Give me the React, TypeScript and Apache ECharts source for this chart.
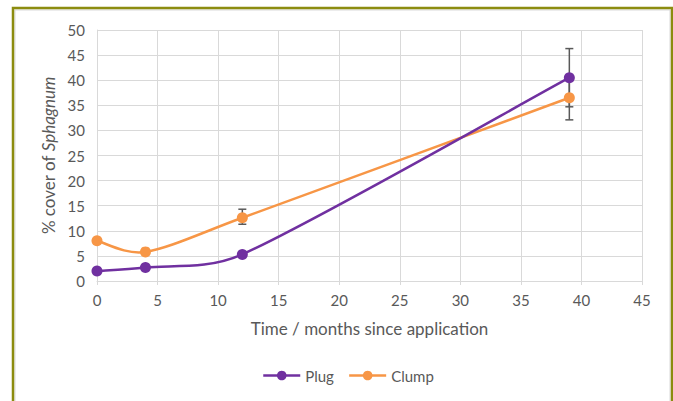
import React, { useEffect, useRef } from "react";
import * as echarts from "echarts";

const months = [0, 4, 12, 39];
const plugValues = [2.0, 2.7, 5.3, 40.5];
const clumpValues = [8.0, 5.8, 12.6, 36.5];
// error bars: [x, low, high]
const plugErrors: [number, number, number][] = [[39, 34.7, 46.3]];
const clumpErrors: [number, number, number][] = [[12, 11.3, 14.3], [39, 32.1, 40.9]];
const xTicks = { min: 0, max: 45, interval: 5 };
const yTicks = { min: 0, max: 50, interval: 5 };

const FONT = "Lato, 'Open Sans', sans-serif";
const TXT = "#595959";
const PURPLE = "#7030A0";
const ORANGE = "#F79646";

function errorSeries(name: string, data: [number, number, number][]) {
  return {
    type: "custom",
    name,
    z: 4,
    silent: true,
    data,
    renderItem: (params: any, api: any) => {
      const x = api.value(0);
      const lo = api.coord([x, api.value(1)]);
      const hi = api.coord([x, api.value(2)]);
      const w = 4;
      const style = { stroke: "#595959", lineWidth: 1.5 };
      return {
        type: "group",
        children: [
          { type: "line", shape: { x1: lo[0], y1: lo[1], x2: hi[0], y2: hi[1] }, style },
          { type: "line", shape: { x1: lo[0] - w, y1: lo[1], x2: lo[0] + w, y2: lo[1] }, style },
          { type: "line", shape: { x1: hi[0] - w, y1: hi[1], x2: hi[0] + w, y2: hi[1] }, style },
        ],
      };
    },
  };
}

function clampArm(dx: number, dy: number, maxLen: number): [number, number] {
  const len = Math.hypot(dx, dy);
  if (len > maxLen && len > 0) {
    const k = maxLen / len;
    return [dx * k, dy * k];
  }
  return [dx, dy];
}

// Excel-like smoothed curve (Catmull-Rom as cubic Bezier) through the library's coordinates
function curveSeries(name: string, xs: number[], ys: number[], color: string, z: number) {
  return {
    type: "custom",
    name: name + "Curve",
    z,
    silent: true,
    data: [0],
    renderItem: (params: any, api: any) => {
      const pts = xs.map((x, i) => api.coord([x, ys[i]]));
      const n = pts.length;
      let d = `M${pts[0][0]},${pts[0][1]}`;
      for (let i = 0; i < n - 1; i++) {
        const p0 = pts[Math.max(0, i - 1)];
        const p1 = pts[i];
        const p2 = pts[i + 1];
        const p3 = pts[Math.min(n - 1, i + 2)];
        const seg = Math.hypot(p2[0] - p1[0], p2[1] - p1[1]);
        const a1 = clampArm((p2[0] - p0[0]) / 6, (p2[1] - p0[1]) / 6, seg * 0.4);
        const a2 = clampArm((p3[0] - p1[0]) / 6, (p3[1] - p1[1]) / 6, seg * 0.4);
        const c1x = p1[0] + a1[0];
        const c1y = p1[1] + a1[1];
        const c2x = p2[0] - a2[0];
        const c2y = p2[1] - a2[1];
        d += ` C${c1x},${c1y} ${c2x},${c2y} ${p2[0]},${p2[1]}`;
      }
      return {
        type: "path",
        shape: { pathData: d },
        style: { fill: "none", stroke: color, lineWidth: 2.5, lineJoin: "round", lineCap: "round" },
      };
    },
  };
}

export default function App() {
  const ref = useRef<HTMLDivElement>(null);
  useEffect(() => {
    if (!ref.current) return;
    const chart = echarts.init(ref.current, undefined, { renderer: "svg" });
    chart.setOption({
      animation: false,
      backgroundColor: "#ffffff",
      textStyle: { fontFamily: FONT },
      graphic: [
        {
          type: "rect",
          shape: { x: 15, y: 10, width: 655, height: 420 },
          style: { fill: "none", stroke: "#d9d9d9", lineWidth: 1 },
          z: 0,
        },
        {
          type: "rect",
          shape: { x: 13, y: 8, width: 659, height: 420 },
          style: { fill: "none", stroke: "#8C8C0F", lineWidth: 2.5 },
          z: 100,
        },
      ],
      grid: { left: 97, right: 31, top: 30, bottom: 120 },
      legend: {
        bottom: 13,
        left: 257,
        itemWidth: 37,
        itemHeight: 12,
        itemGap: 14,
        textStyle: { color: TXT, fontSize: 15, fontFamily: FONT },
        data: [
          { name: "Plug", lineStyle: { color: PURPLE, width: 2.5, opacity: 1 } },
          { name: "Clump", lineStyle: { color: ORANGE, width: 2.5, opacity: 1 } },
        ],
      },
      xAxis: {
        type: "value",
        min: xTicks.min,
        max: xTicks.max,
        interval: xTicks.interval,
        name: "Time / months since application",
        nameLocation: "middle",
        nameGap: 39,
        nameTextStyle: { color: TXT, fontSize: 17, fontFamily: FONT },
        axisLine: { lineStyle: { color: "#d9d9d9", width: 1 } },
        axisTick: { show: true, length: 4, lineStyle: { color: "#d9d9d9" } },
        axisLabel: { color: TXT, fontSize: 15, margin: 11, fontFamily: FONT },
        splitLine: { show: true, lineStyle: { color: "#d9d9d9", width: 1 } },
      },
      yAxis: {
        type: "value",
        min: yTicks.min,
        max: yTicks.max,
        interval: yTicks.interval,
        name: "{n|% cover of }{i|Sphagnum}",
        nameLocation: "middle",
        nameGap: 40,
        nameRotate: 90,
        nameTextStyle: {
          color: TXT,
          fontSize: 17,
          rich: {
            n: { color: TXT, fontSize: 17, fontFamily: FONT },
            i: { color: TXT, fontSize: 17, fontFamily: FONT, fontStyle: "italic" },
          },
        },
        axisLine: { show: true, lineStyle: { color: "#d9d9d9", width: 1 } },
        axisTick: { show: false },
        axisLabel: { color: TXT, fontSize: 15, margin: 12, fontFamily: FONT },
        splitLine: { show: true, lineStyle: { color: "#d9d9d9", width: 1 } },
      },
      series: [
        curveSeries("Plug", months, plugValues, PURPLE, 3),
        curveSeries("Clump", months, clumpValues, ORANGE, 2),
        errorSeries("plugErr", plugErrors),
        errorSeries("clumpErr", clumpErrors),
        {
          name: "Plug",
          type: "line",
          symbol: "circle",
          symbolSize: 11,
          z: 6,
          data: months.map((m, i) => [m, plugValues[i]]),
          lineStyle: { color: PURPLE, width: 2.5, opacity: 0 },
          itemStyle: { color: PURPLE },
        },
        {
          name: "Clump",
          type: "line",
          symbol: "circle",
          symbolSize: 11,
          z: 5,
          data: months.map((m, i) => [m, clumpValues[i]]),
          lineStyle: { color: ORANGE, width: 2.5, opacity: 0 },
          itemStyle: { color: ORANGE },
        },
      ],
    });
    return () => chart.dispose();
  }, []);
  return (
    <div
      ref={ref}
      style={{ position: "fixed", left: 0, top: 0, width: 673, height: 401, background: "#fff" }}
    />
  );
}
